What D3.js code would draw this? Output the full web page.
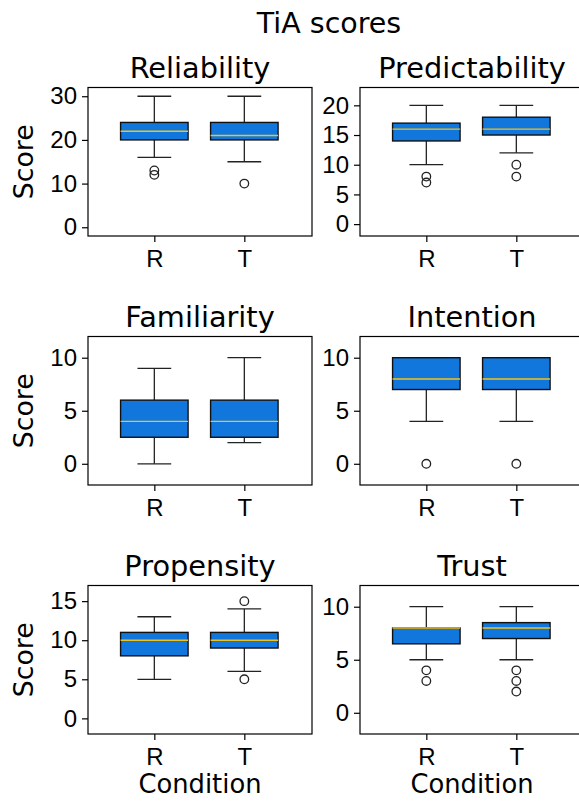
<!DOCTYPE html>
<html>
<head>
<meta charset="utf-8">
<script src="https://cdn.jsdelivr.net/npm/d3@7"></script>
<style>
  html, body { margin: 0; background: #fff; overflow: hidden; }
  svg { display: block; font-family: "DejaVu Sans", sans-serif; }
  .frame { fill: none; stroke: #000; stroke-width: 1.2; }
  .tick line { stroke: #000; stroke-width: 1.2; }
  .tick text { font-size: 24px; fill: #000; }
</style>
</head>
<body>
<svg width="579" height="803"></svg>
<script>
// panel titles, conditions
const metrics = ["Reliability", "Predictability", "Familiarity", "Intention", "Propensity", "Trust"];
const conditions = ["R", "T"];

// box stats per metric, [R, T]
const q1        = [[20, 20], [14, 15], [2.5, 2.5], [7, 7], [8, 9], [6.5, 7]];
const medians   = [[22, 21], [16, 16], [4, 4], [8, 8], [10, 10], [8, 8]];
const q3        = [[24, 24], [17, 18], [6, 6], [10, 10], [11, 11], [8, 8.5]];
const whiskLow  = [[16, 15], [10, 12], [0, 2], [4, 4], [5, 6], [5, 5]];
const whiskHigh = [[30, 30], [20, 20], [9, 10], [10, 10], [13, 14], [10, 10]];
const outliers  = [
    [[12, 13], [10]],
    [[7, 8], [8, 10]],
    [[], []],
    [[0], [0]],
    [[], [15, 5]],
    [[3, 4], [2, 3, 4]]
];

// y limits and ticks
const yMax   = [32, 23, 12, 12, 17, 12];
const yMin   = -2;
const yTicks = [
    [0, 10, 20, 30],
    [0, 5, 10, 15, 20],
    [0, 5, 10],
    [0, 5, 10],
    [0, 5, 10, 15],
    [0, 5, 10]
];

const axW = 224, axH = 148.5;
const colX = [88, 360];
const rowY = [87.5, 336.5, 585.5];
const boxW = 0.75;

const svg = d3.select("svg");

svg.append("text")
   .attr("x", 329)
   .attr("y", 33)
   .attr("text-anchor", "middle")
   .attr("font-size", 28.5)
   .text("TiA scores");

const x = d3.scaleLinear().domain([0.263, 0.263 + axW / 90]).range([0, axW]);

metrics.forEach((m, i) => {
    const col = i % 2, row = Math.floor(i / 2);
    const g = svg.append("g").attr("transform", `translate(${colX[col]},${rowY[row]})`);
    const y = d3.scaleLinear().domain([yMin, yMax[i]]).range([axH, 0]);

    // axes
    g.append("g")
     .call(d3.axisLeft(y).tickValues(yTicks[i]).tickSize(6).tickPadding(5))
     .call(a => a.select(".domain").remove());
    g.append("g")
     .attr("transform", `translate(0,${axH})`)
     .call(d3.axisBottom(x).tickValues([1, 2]).tickFormat((d, k) => conditions[k]).tickSize(6).tickPadding(8))
     .call(a => a.select(".domain").remove());

    // boxes
    conditions.forEach((c, k) => {
        const cx = x(k + 1);
        const hw = x(k + 1 + boxW / 2) - cx;
        const b = g.append("g");
        b.append("line")
         .attr("x1", cx).attr("x2", cx)
         .attr("y1", y(whiskHigh[i][k])).attr("y2", y(q3[i][k]))
         .attr("stroke", "#222").attr("stroke-width", 1.3);
        b.append("line")
         .attr("x1", cx).attr("x2", cx)
         .attr("y1", y(q1[i][k])).attr("y2", y(whiskLow[i][k]))
         .attr("stroke", "#222").attr("stroke-width", 1.3);
        [whiskHigh[i][k], whiskLow[i][k]].forEach(v => {
            b.append("line")
             .attr("x1", cx - hw / 2).attr("x2", cx + hw / 2)
             .attr("y1", y(v)).attr("y2", y(v))
             .attr("stroke", "#222").attr("stroke-width", 1.3);
        });
        b.append("rect")
         .attr("x", cx - hw)
         .attr("width", hw * 2)
         .attr("y", y(q3[i][k]))
         .attr("height", y(q1[i][k]) - y(q3[i][k]))
         .attr("fill", "#1177dd")
         .attr("stroke", "#111")
         .attr("stroke-width", 1.4);
        b.append("line")
         .attr("x1", cx - hw).attr("x2", cx + hw)
         .attr("y1", y(medians[i][k])).attr("y2", y(medians[i][k]))
         .attr("stroke", "#f2c21a").attr("stroke-width", 1.4);
        b.selectAll("circle")
         .data(outliers[i][k])
         .join("circle")
         .attr("cx", cx)
         .attr("cy", d => y(d))
         .attr("r", 4.3)
         .attr("fill", "none")
         .attr("stroke", "#222")
         .attr("stroke-width", 1.3);
    });

    g.append("rect")
     .attr("class", "frame")
     .attr("width", axW)
     .attr("height", axH);

    g.append("text")
     .attr("x", axW / 2)
     .attr("y", -9.5)
     .attr("text-anchor", "middle")
     .attr("font-size", 28.8)
     .text(m);

    if (col === 0) {
        g.append("text")
         .attr("transform", `translate(${33 - colX[0]},${axH / 2}) rotate(-90)`)
         .attr("text-anchor", "middle")
         .attr("font-size", 26.8)
         .text("Score");
    }
    if (row === 2) {
        g.append("text")
         .attr("x", axW / 2)
         .attr("y", 793 - rowY[2])
         .attr("text-anchor", "middle")
         .attr("font-size", 25.8)
         .text("Condition");
    }
});
</script>
</body>
</html>
